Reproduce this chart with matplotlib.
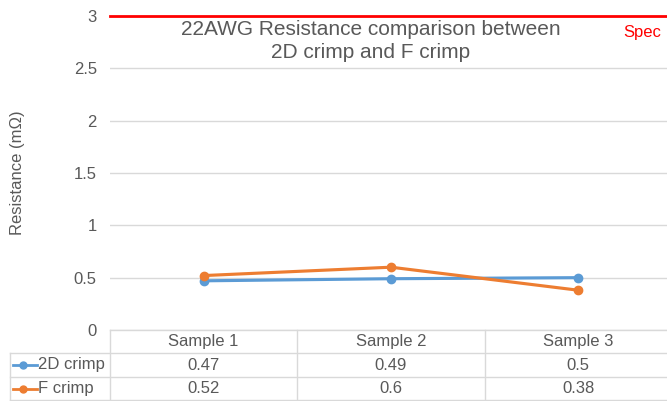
import matplotlib.pyplot as plt
from matplotlib.lines import Line2D

# Data
samples = ['Sample 1', 'Sample 2', 'Sample 3']
crimp_2d = [0.47, 0.49, 0.5]
crimp_f = [0.52, 0.6, 0.38]
series_names = ['2D crimp', 'F crimp']
spec_value = 3
y_ticks = [0, 0.5, 1, 1.5, 2, 2.5, 3]

BLUE = '#5B9BD5'
ORANGE = '#ED7D31'
GRID = '#D9D9D9'
TEXT = '#595959'

plt.rcParams['font.family'] = ['Liberation Sans', 'DejaVu Sans']

W, H = 667, 401
fig = plt.figure(figsize=(W / 100, H / 100), dpi=100)

# Layout in pixels
left_px, right_px = 110, 672
top_px, bottom_px = 16, 330
key_left_px = 10
table_bottom_px = 400
row_px = [330, 353, 377, 400]


def fx(px):
    return px / W


def fy(px):
    return 1 - px / H


ax = fig.add_axes([fx(left_px), fy(bottom_px), fx(right_px - left_px), (bottom_px - top_px) / H])
x = range(len(samples))

ax.plot(x, crimp_2d, color=BLUE, lw=2.25, marker='o', ms=6, zorder=3)
ax.plot(x, crimp_f, color=ORANGE, lw=2.25, marker='o', ms=6, zorder=3)
ax.axhline(spec_value, color='#FF0000', lw=2, zorder=4, clip_on=False)

ax.set_xlim(-0.5, len(samples) - 0.5)
ax.set_ylim(0, 3)
ax.set_yticks(y_ticks)
ax.set_yticklabels([f'{t:g}' for t in y_ticks])
ax.set_xticks([])
ax.grid(axis='y', color=GRID, lw=1)
ax.set_axisbelow(True)
for s in ax.spines.values():
    s.set_visible(False)
ax.tick_params(axis='y', length=0, pad=9.5, labelsize=12, labelcolor=TEXT)

fig.text(fx(18), fy(173), 'Resistance (mΩ)', rotation=90, ha='center', va='center',
         color=TEXT, fontsize=12)

fig.text(fx(371), fy(20), '22AWG Resistance comparison between\n2D crimp and F crimp',
         ha='center', va='top', fontsize=15, color=TEXT, linespacing=1.25)
fig.text(fx(623), fy(32), 'Spec', color='#FF0000', fontsize=12, ha='left', va='center')

# Data table below the plot
tf = fig.transFigure
col_w = (right_px - left_px) / len(samples)
col_edges = [left_px + i * col_w for i in range(len(samples) + 1)]


def hline(y, x0, x1):
    fig.add_artist(Line2D([fx(x0), fx(x1)], [fy(y), fy(y)], transform=tf, color=GRID, lw=1))


def vline(x, y0, y1):
    fig.add_artist(Line2D([fx(x), fx(x)], [fy(y0), fy(y1)], transform=tf, color=GRID, lw=1))


hline(row_px[0], left_px, right_px)
for y in row_px[1:]:
    hline(y, key_left_px, right_px)
for xe in col_edges[:-1]:
    vline(xe, row_px[0], table_bottom_px)
vline(key_left_px, row_px[1], table_bottom_px)

for i, name in enumerate(samples):
    cx = (col_edges[i] + col_edges[i + 1]) / 2
    fig.text(fx(cx), fy((row_px[0] + row_px[1]) / 2), name, ha='center', va='center',
             fontsize=12, color=TEXT)
    for r, vals in enumerate([crimp_2d, crimp_f]):
        fig.text(fx(cx), fy((row_px[r + 1] + row_px[r + 2]) / 2), f'{vals[i]:g}',
                 ha='center', va='center', fontsize=12, color=TEXT)

for r, (name, color) in enumerate(zip(series_names, [BLUE, ORANGE])):
    yc = fy((row_px[r + 1] + row_px[r + 2]) / 2)
    fig.add_artist(Line2D([fx(13), fx(37)], [yc, yc], transform=tf, color=color, lw=2))
    fig.add_artist(Line2D([fx(23)], [yc], transform=tf, color=color, marker='o', ms=5))
    fig.text(fx(38), yc, name, ha='left', va='center', fontsize=12, color=TEXT)

fig.savefig('out.png', dpi=100)
